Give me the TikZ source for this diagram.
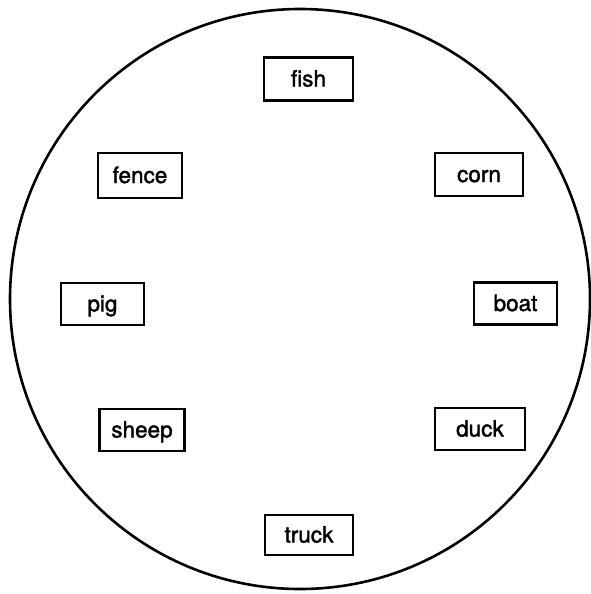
\documentclass[tikz,border=0pt]{standalone}
\usepackage{fontspec}
\setmainfont{TeX Gyre Heros}[FakeBold=1.6]
\begin{document}
\begin{tikzpicture}[x=1pt,y=-1pt,
  wordbox/.style={draw, line width=2.2pt, inner sep=0pt, minimum height=42pt,
    font=\fontsize{22.5}{26}\selectfont, text depth=0pt, text height=15pt}]
\useasboundingbox (0,0) rectangle (591,594);
\node[draw, circle, line width=2.6pt, minimum size=580pt, inner sep=0pt] (ring) at (300,299) {};
\node[wordbox, minimum width=89pt, minimum height=43pt] (fish) at (308.5,79) {fish};
\node[wordbox, minimum width=84pt, minimum height=45pt] (fence) at (140,175.5) {fence};
\node[wordbox, minimum width=88pt, minimum height=43pt] (corn) at (479,174.5) {corn};
\node[wordbox, minimum width=83pt] (pig) at (102.5,304) {pig};
\node[wordbox, minimum width=83pt] (boat) at (515.5,303.5) {boat};
\node[wordbox, minimum width=85pt] (sheep) at (142,430) {sheep};
\node[wordbox, minimum width=90pt] (duck) at (480,429) {duck};
\node[wordbox, minimum width=88pt, minimum height=40pt] (truck) at (309,535) {truck};
\end{tikzpicture}
\end{document}
